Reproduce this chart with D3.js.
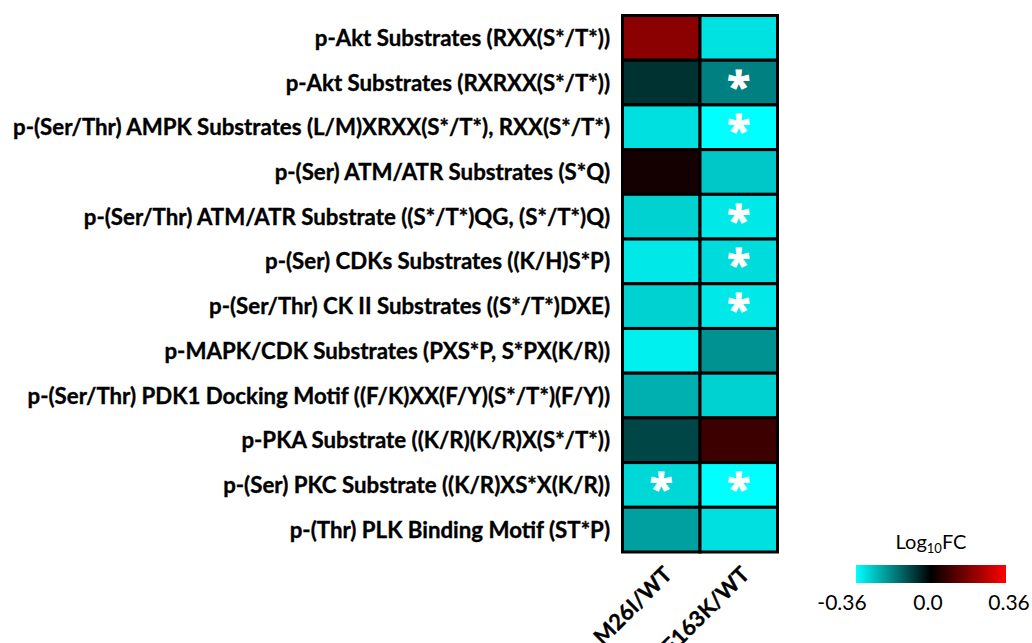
<!DOCTYPE html>
<html><head><meta charset="utf-8">
<script src="https://cdn.jsdelivr.net/npm/d3@7"></script>
<style>
html,body{margin:0;padding:0;background:#fff;}
svg{display:block;}
</style>
</head><body>
<svg id="chart" width="1032" height="643"></svg>
<script>
const rowLabels = [
  "p-Akt Substrates (RXX(S*/T*))",
  "p-Akt Substrates (RXRXX(S*/T*))",
  "p-(Ser/Thr) AMPK Substrates (L/M)XRXX(S*/T*), RXX(S*/T*)",
  "p-(Ser) ATM/ATR Substrates (S*Q)",
  "p-(Ser/Thr) ATM/ATR Substrate ((S*/T*)QG, (S*/T*)Q)",
  "p-(Ser) CDKs Substrates ((K/H)S*P)",
  "p-(Ser/Thr) CK II Substrates ((S*/T*)DXE)",
  "p-MAPK/CDK Substrates (PXS*P, S*PX(K/R))",
  "p-(Ser/Thr) PDK1 Docking Motif ((F/K)XX(F/Y)(S*/T*)(F/Y))",
  "p-PKA Substrate ((K/R)(K/R)X(S*/T*))",
  "p-(Ser) PKC Substrate ((K/R)XS*X(K/R))",
  "p-(Thr) PLK Binding Motif (ST*P)"
];
const columns = ["M26I/WT", "E163K/WT"];
const valuesM26I  = [0.196, -0.071, -0.316, 0.028, -0.296, -0.328, -0.296, -0.339, -0.247, -0.099, -0.304, -0.226];
const valuesE163K = [-0.319, -0.181, -0.360, -0.282, -0.328, -0.311, -0.328, -0.205, -0.296, 0.085, -0.360, -0.316];
const sigM26I  = [false,false,false,false,false,false,false,false,false,false,true,false];
const sigE163K = [false,true,true,false,true,true,true,false,false,false,true,false];
const legendTicks = [-0.36, 0.0, 0.36];
const legendTickLabels = ["-0.36", "0.0", "0.36"];

const svg = d3.select("#chart");
const labelFont = "Lato, 'Open Sans', sans-serif";

const x = d3.scaleBand().domain(columns).range([622.5, 777.5]).padding(0);
const y = d3.scaleBand().domain(rowLabels).range([15.5, 552]).padding(0);
const color = d3.scaleLinear().domain([-0.36, 0, 0.36]).range(["#00FFFF", "#000000", "#FF0000"]).clamp(true);

const cells = [];
rowLabels.forEach((r, i) => {
  cells.push({row: r, col: columns[0], v: valuesM26I[i], sig: sigM26I[i]});
  cells.push({row: r, col: columns[1], v: valuesE163K[i], sig: sigE163K[i]});
});

const g = svg.append("g");
g.selectAll("rect.cell").data(cells).join("rect")
  .attr("class", "cell")
  .attr("x", d => x(d.col)).attr("y", d => y(d.row))
  .attr("width", x.bandwidth()).attr("height", y.bandwidth())
  .attr("fill", d => color(d.v))
  .attr("stroke", "#000").attr("stroke-width", 3);

// asterisks
g.selectAll("text.star").data(cells.filter(d => d.sig)).join("text")
  .attr("class", "star")
  .attr("x", d => x(d.col) + x.bandwidth() / 2)
  .attr("y", d => y(d.row) + y.bandwidth() / 2 + 18)
  .attr("text-anchor", "middle")
  .attr("fill", "#fff")
  .attr("font-family", "'Open Sans', sans-serif")
  .attr("font-weight", "bold")
  .attr("font-size", 42)
  .attr("stroke", "#fff").attr("stroke-width", 1)
  .text("*");

// row labels
const yAxis = d3.axisLeft(y).tickSize(0).tickPadding(0);
const ya = svg.append("g").attr("transform", "translate(610,0)").call(yAxis);
ya.select(".domain").remove();
ya.selectAll("text")
  .attr("font-family", labelFont).attr("font-weight", "bold")
  .attr("font-size", 20).attr("fill", "#000").attr("dy", "0.36em")
  .attr("stroke", "#000").attr("stroke-width", 0.35);
let maxW = 0;
ya.selectAll("text").each(function() { maxW = Math.max(maxW, this.getComputedTextLength()); });
const fs = 20 * 597 / maxW;
ya.selectAll("text").attr("font-size", fs);

// column labels
const xa = svg.append("g").attr("transform", "translate(0,552)").call(d3.axisBottom(x).tickSize(0).tickPadding(0));
xa.select(".domain").remove();
xa.selectAll("text")
  .attr("font-family", labelFont).attr("font-weight", "bold")
  .attr("font-size", 22).attr("fill", "#000")
  .attr("stroke", "#000").attr("stroke-width", 0.35)
  .attr("text-anchor", "end")
  .attr("dy", 0)
  .attr("transform", "translate(12,24) rotate(-45)");

// legend
const defs = svg.append("defs");
const grad = defs.append("linearGradient").attr("id", "lg").attr("x1", "0%").attr("x2", "100%");
[-0.36, 0, 0.36].forEach((v, i) => grad.append("stop").attr("offset", (i * 50) + "%").attr("stop-color", color(v)));
const lx = d3.scaleLinear().domain([-0.36, 0.36]).range([856, 1006]);
svg.append("rect").attr("x", lx(-0.36)).attr("y", 565).attr("width", lx(0.36) - lx(-0.36)).attr("height", 18).attr("fill", "url(#lg)");
const lt = svg.append("text").attr("x", lx(0)).attr("y", 549).attr("text-anchor", "middle")
  .attr("font-family", labelFont).attr("font-size", 20).attr("fill", "#000");
lt.append("tspan").text("Log");
lt.append("tspan").attr("font-size", 13).attr("dy", 4).text("10");
lt.append("tspan").attr("dy", -4).text("FC");
svg.selectAll("text.lt").data(legendTicks).join("text").attr("class", "lt")
  .attr("x", (d, i) => lx(d) + [-14, -3, 3][i]).attr("y", 610)
  .attr("text-anchor", "middle")
  .attr("font-family", labelFont).attr("font-size", 21).attr("fill", "#000")
  .text((d, i) => legendTickLabels[i]);
</script>
</body></html>
